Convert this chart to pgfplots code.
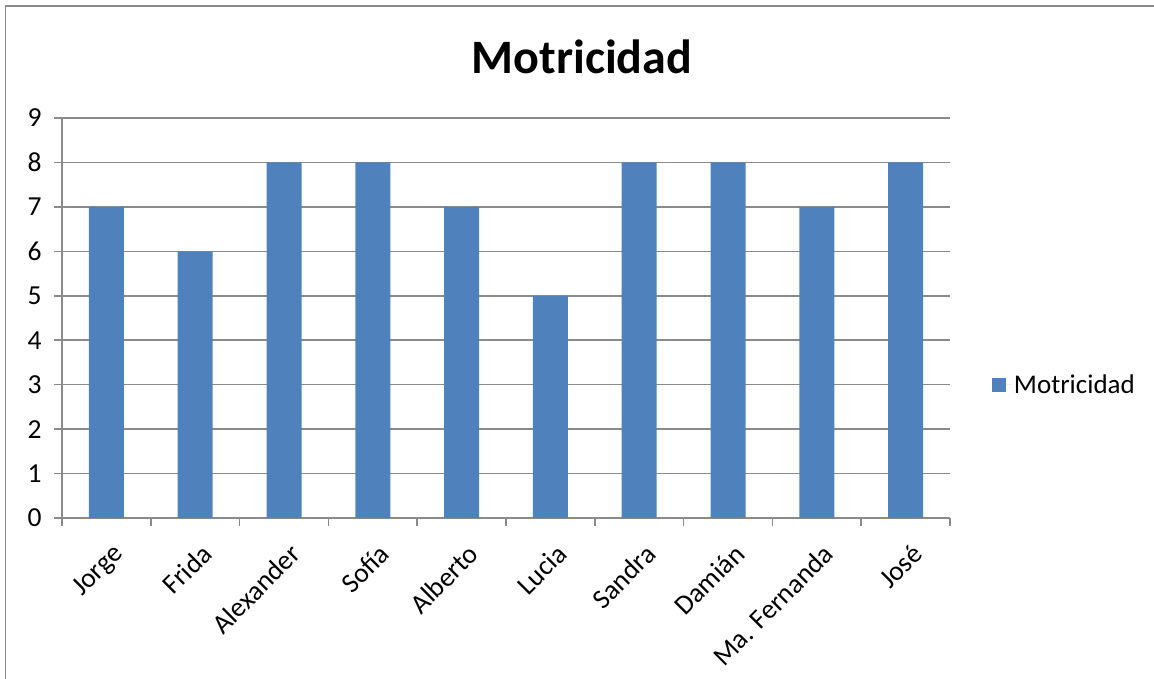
\documentclass[border=0pt]{standalone}
\usepackage{fontspec}
\setmainfont{Carlito}
\usepackage{pgfplots}
\pgfplotsset{compat=1.18}
\definecolor{barblue}{HTML}{4F81BD}
\definecolor{gridgray}{HTML}{8A8A8A}

\begin{document}
\begin{tikzpicture}[x=1pt,y=1pt]
\useasboundingbox (0,0) rectangle (1154,679);
\draw[gridgray, line width=1.5pt] (5.5,0) -- (5.5,673) -- (1154,673);
\node[font=\fontsize{48}{52}\selectfont\bfseries] at (582,622) {Motricidad};
\begin{axis}[
    at={(62pt,161pt)}, anchor=south west,
    scale only axis, width=888pt, height=400pt,
    xmin=-0.5, xmax=9.5, ymin=0, ymax=9,
    axis x line=bottom, axis y line=left,
    axis line style={-, gridgray, line width=1.5pt},
    tick align=outside,
    xtick={0,...,9},
    xticklabels={Jorge,Frida,Alexander,Sofía,Alberto,Lucia,Sandra,Damián,Ma. Fernanda,José},
    major x tick style={draw=none},
    minor xtick={-0.5,0.5,...,9.5},
    minor x tick style={gridgray, line width=1.5pt},
    minor tick length=8pt,
    ytick={0,...,9},
    major y tick style={gridgray, line width=1.5pt},
    major tick length=8pt,
    ymajorgrids,
    major grid style={gridgray, line width=1.5pt},
    /pgf/number format/assume math mode=true,
    ticklabel style={font=\fontsize{27.5}{32}\selectfont},
    yticklabel style={xshift=-9pt},
    xticklabel style={rotate=45, anchor=north east, inner sep=2pt, yshift=-13pt, xshift=-6pt},
    legend style={at={(1.047,0.3325)}, anchor=west, draw=none, fill=none,
        font=\fontsize{27}{31}\selectfont, inner sep=0pt},
    legend image code/.code={\fill[barblue] (0pt,-7pt) rectangle (14pt,7pt);
        \path (0pt,0pt) -- (20pt,0pt);},
]
\addplot[ybar, fill=barblue, draw=none, bar width=35pt]
    coordinates {(0,7) (1,6) (2,8) (3,8) (4,7) (5,5) (6,8) (7,8) (8,7) (9,8)};
\legend{Motricidad}
\end{axis}
\end{tikzpicture}
\end{document}
